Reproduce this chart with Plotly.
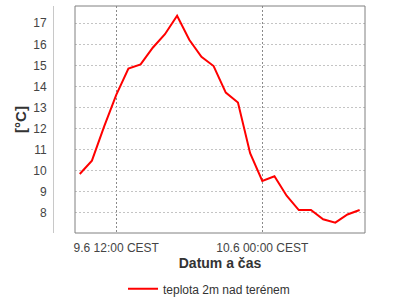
import plotly.graph_objects as go

times = [
    "2014-06-09 09:00", "2014-06-09 10:00", "2014-06-09 11:00", "2014-06-09 12:00",
    "2014-06-09 13:00", "2014-06-09 14:00", "2014-06-09 15:00", "2014-06-09 16:00",
    "2014-06-09 17:00", "2014-06-09 18:00", "2014-06-09 19:00", "2014-06-09 20:00",
    "2014-06-09 21:00", "2014-06-09 22:00", "2014-06-09 23:00", "2014-06-10 00:00",
    "2014-06-10 01:00", "2014-06-10 02:00", "2014-06-10 03:00", "2014-06-10 04:00",
    "2014-06-10 05:00", "2014-06-10 06:00", "2014-06-10 07:00", "2014-06-10 08:00",
]
temps = [
    9.85, 10.48, 12.1, 13.6, 14.85, 15.05, 15.84, 16.48,
    17.36, 16.22, 15.41, 14.97, 13.71, 13.24, 10.84, 9.52,
    9.74, 8.82, 8.14, 8.14, 7.7, 7.54, 7.93, 8.14,
]
x_tickvals = ["2014-06-09 12:00", "2014-06-10 00:00"]
x_ticktext = ["9.6 12:00 CEST", "10.6 00:00 CEST"]
x_range = ["2014-06-09 08:36:36", "2014-06-10 08:26:24"]
y_range = [7.05, 17.82]
series_name = "teplota 2m nad terénem"
x_title = "Datum a čas"
y_title = "[°C]"

FONT = "Liberation Sans, Arial, sans-serif"

fig = go.Figure()
fig.add_trace(go.Scatter(
    x=times, y=temps, mode="lines", name=series_name,
    line=dict(color="#ff0000", width=2),
))

fig.update_layout(
    width=400, height=300,
    margin=dict(l=53, r=35, t=6, b=67, autoexpand=False),
    paper_bgcolor="white", plot_bgcolor="white",
    font=dict(family=FONT, size=12, color="#444444"),
    showlegend=True,
    legend=dict(orientation="h", x=0.5, xanchor="center", y=-0.246, yanchor="middle",
                font=dict(size=12, color="#333333")),
    xaxis=dict(
        domain=[22 / 312, 1],
        type="date", range=x_range,
        tickvals=x_tickvals, ticktext=x_ticktext,
        showgrid=True, gridcolor="#8a8a8a", griddash="2px,2px", gridwidth=1,
        ticks="outside", ticklen=4, tickcolor="rgba(0,0,0,0)",
        showline=False, zeroline=False, automargin=False,
        tickfont=dict(size=12, color="#444444"),
        title=dict(text="<b>" + x_title + "</b>", font=dict(size=14, color="#333333"), standoff=2),
    ),
    yaxis=dict(
        anchor="free", position=0,
        range=y_range, dtick=1, tick0=0,
        showgrid=True, gridcolor="#c4c4c4", griddash="2px,2px", gridwidth=1,
        showline=True, linecolor="#c8c8c8", linewidth=1,
        ticks="outside", ticklen=4, tickcolor="rgba(0,0,0,0)",
        zeroline=False, automargin=False,
        tickfont=dict(size=12, color="#444444"),
        title=dict(text="<b>" + y_title + "</b>", font=dict(size=15, color="#333333"), standoff=1),
    ),
    shapes=[dict(type="rect", xref="x domain", yref="y domain", x0=0, x1=1, y0=0, y1=1,
                 line=dict(color="#808080", width=1), layer="above")],
)

fig.write_html("out.html")
